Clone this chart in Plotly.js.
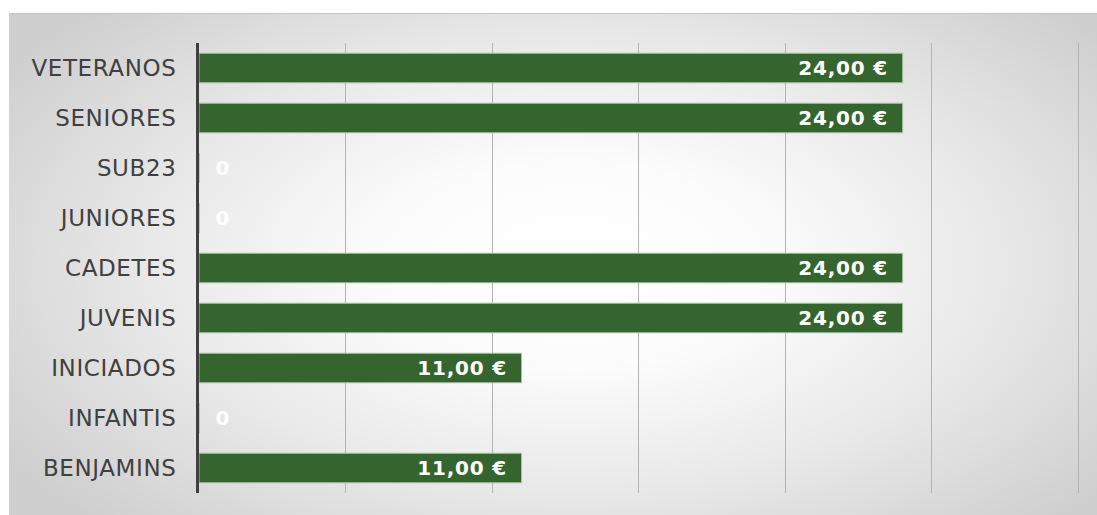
<!DOCTYPE html>
<html>
<head>
<meta charset="utf-8">
<script src="https://cdn.plot.ly/plotly-3.0.1.min.js"></script>
<style>
  html, body { margin: 0; padding: 0; background: #ffffff; }
  #wrap { position: relative; width: 1097px; height: 515px; overflow: hidden; }
  #bg {
    position: absolute; left: 9px; top: 13px; width: 1088px; height: 502px;
    border-top: 1px solid #c4c4c4; box-sizing: border-box;
    background: radial-gradient(ellipse 62% 72% at 52% 50%, #ffffff 0%, #fcfcfc 28%, #e9e9e9 62%, #cfcfcf 100%);
  }
  #chart { position: absolute; left: 0; top: 0; width: 1097px; height: 515px; }
  #chart .ytick text { letter-spacing: 0.6px; }
  #chart .annotation-text { letter-spacing: 0.8px; }
</style>
</head>
<body>
<div id="wrap">
  <div id="bg"></div>
  <div id="chart"></div>
</div>
<script>
// Data (bottom to top as drawn)
const categories = ["BENJAMINS", "INFANTIS", "INICIADOS", "JUVENIS", "CADETES", "JUNIORES", "SUB23", "SENIORES", "VETERANOS"];
const values = [11, 0, 11, 24, 24, 0, 0, 24, 24];
const xTicks = [0, 5, 10, 15, 20, 25, 30];

function fmt(v) {
  if (v === 0) return "0";
  return v.toFixed(2).replace(".", ",") + " €";
}

const trace = {
  type: "bar",
  orientation: "h",
  y: categories,
  x: values,
  marker: { color: "#35652f", line: { color: "#a3c29f", width: 1 } },
  hoverinfo: "skip"
};

const annotations = values.map((v, i) => ({
  x: v,
  y: categories[i],
  xref: "x",
  yref: "y",
  text: "<b>" + fmt(v) + "</b>",
  showarrow: false,
  xanchor: v === 0 ? "left" : "right",
  xshift: v === 0 ? 15 : -16,
  yshift: 0,
  font: { family: "DejaVu Sans, Verdana, sans-serif", size: 20, color: "#ffffff" }
}));

const layout = {
  width: 1097,
  height: 515,
  margin: { l: 199, r: 16.5, t: 43, b: 22, pad: 0 },
  paper_bgcolor: "rgba(0,0,0,0)",
  plot_bgcolor: "rgba(0,0,0,0)",
  showlegend: false,
  bargap: 0.41,
  xaxis: {
    range: [0, 30.05],
    tickvals: xTicks,
    showticklabels: false,
    showgrid: true,
    gridcolor: "#b3b3b3",
    gridwidth: 1,
    zeroline: false,
    showline: false,
    fixedrange: true
  },
  yaxis: {
    type: "category",
    categoryorder: "array",
    categoryarray: categories,
    showgrid: false,
    zeroline: false,
    showline: true,
    linecolor: "#404040",
    linewidth: 3,
    ticks: "",
    ticklabelstandoff: 15,
    tickfont: { family: "DejaVu Sans, Verdana, sans-serif", size: 23, color: "#404040" },
    fixedrange: true
  },
  annotations: annotations
};

Plotly.newPlot("chart", [trace], layout, { displayModeBar: false, staticPlot: true });
</script>
</body>
</html>
